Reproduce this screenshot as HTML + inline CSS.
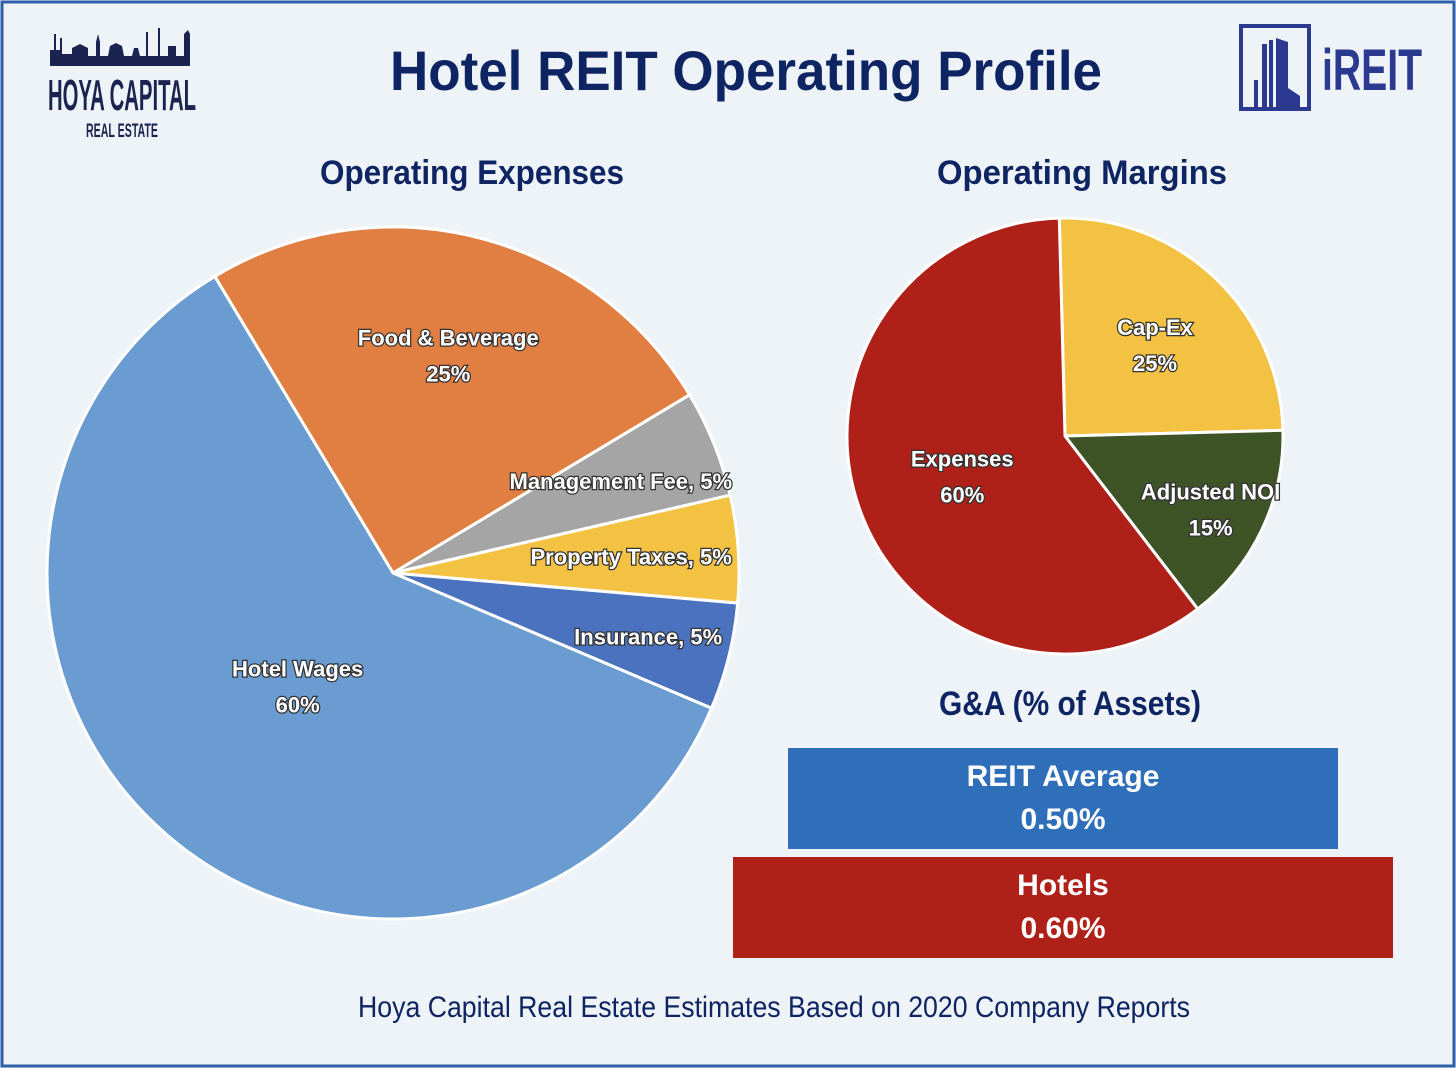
<!DOCTYPE html>
<html><head><meta charset="utf-8">
<style>
html,body{margin:0;padding:0;background:#eef3f7;}
svg{display:block;}
text{font-family:"Liberation Sans Narrow","Liberation Sans",sans-serif;font-weight:bold;}
.lbl{fill:#fff;font-size:22px;text-anchor:middle;paint-order:stroke;stroke:#333;stroke-width:2.5px;}
</style></head>
<body>
<svg id="chart" width="1456" height="1068" viewBox="0 0 1456 1068">
<rect x="2" y="2" width="1452" height="1064" fill="#eef3f7" stroke="#2f5fa8" stroke-width="3"/>
<text x="746" y="90" font-size="56" fill="#0e2463" text-anchor="middle" textLength="712" lengthAdjust="spacingAndGlyphs">Hotel REIT Operating Profile</text>
<g>
<path d="M50 66 L50 50 L54 50 L54 34 L56 34 L56 50 L60 50 L60 38 L62 38 L62 54 L72 54 L72 48 L80 44 L88 48 L88 56 L96 56 L96 42 L98 34 L100 42 L100 56 L108 56 L110 46 L116 43 L122 46 L124 56 L132 56 L134 48 L138 48 L140 56 L146 56 L146 32 L148 32 L148 56 L158 56 L158 28 L160 28 L160 56 L168 56 L168 46 L176 46 L176 56 L184 56 L184 34 L188 30 L190 34 L190 66 Z" fill="#1b2350"/>
<text x="122" y="110" font-size="44" fill="#1b2350" text-anchor="middle" textLength="148" lengthAdjust="spacingAndGlyphs">HOYA CAPITAL</text>
<text x="122" y="137" font-size="19" fill="#1b2350" text-anchor="middle" textLength="72" lengthAdjust="spacingAndGlyphs">REAL ESTATE</text>
</g>
<g>
<rect x="1241" y="26" width="68" height="83" fill="none" stroke="#2b3990" stroke-width="4"/>
<path d="M1276 38 L1288 42 L1288 88 L1300 96 L1300 108 L1276 108 Z" fill="#2b3990"/>
<rect x="1262" y="44" width="5" height="64" fill="#2b3990"/>
<rect x="1269" y="40" width="4" height="68" fill="#2b3990"/>
<rect x="1254" y="80" width="4" height="28" fill="#2b3990"/>
<text x="1322" y="90" font-size="58" fill="#2b3990" textLength="100" lengthAdjust="spacingAndGlyphs">iREIT</text>
</g>
<text x="472" y="184" font-size="34" fill="#0e2463" text-anchor="middle" textLength="304" lengthAdjust="spacingAndGlyphs">Operating Expenses</text>
<text x="1082" y="184" font-size="34" fill="#0e2463" text-anchor="middle" textLength="290" lengthAdjust="spacingAndGlyphs">Operating Margins</text>
<text x="1070" y="715" font-size="34" fill="#0e2463" text-anchor="middle" textLength="262" lengthAdjust="spacingAndGlyphs">G&amp;A (% of Assets)</text>
<g id="pie1"></g>
<g id="pie2"></g>
<g id="bars"></g>
<text x="774" y="1017" font-size="30" fill="#0e2463" style="font-weight:normal" text-anchor="middle" textLength="832" lengthAdjust="spacingAndGlyphs">Hoya Capital Real Estate Estimates Based on 2020 Company Reports</text>
</svg>
<script>
const expCategories=["Food & Beverage","Management Fee","Property Taxes","Insurance","Hotel Wages"];
const expValues=[25,5,5,5,60];
const expColors=["#e07f41","#a5a5a5","#f4c242","#4a72be","#6a9bd1"];
const expInline=[false,true,true,true,false];
const marCategories=["Cap-Ex","Adjusted NOI","Expenses"];
const marValues=[25,15,60];
const marColors=["#f4c242","#3e5326","#af2018"];
const gaCategories=["REIT Average","Hotels"];
const gaValues=[0.50,0.60];
const gaColors=["#2f6fba","#af2018"];
const NS="http://www.w3.org/2000/svg";
function mk(t,a,p){const e=document.createElementNS(NS,t);for(const k in a)e.setAttribute(k,a[k]);p.appendChild(e);return e;}
function pt(cx,cy,r,deg){const a=deg*Math.PI/180;return [cx+r*Math.sin(a),cy-r*Math.cos(a)];}
function pie(g,cats,vals,cols,cx,cy,r,start,labR,inline,name){
  const tot=vals.reduce((a,b)=>a+b,0);let a=start;
  vals.forEach((v,i)=>{
    const sw=v/tot*360,a2=a+sw;
    const p1=pt(cx,cy,r,a),p2=pt(cx,cy,r,a2);
    const p=mk("path",{d:`M${cx} ${cy} L${p1[0]} ${p1[1]} A${r} ${r} 0 ${sw>180?1:0} 1 ${p2[0]} ${p2[1]} Z`,fill:cols[i],stroke:"#fff","stroke-width":3},g);
    
    
    const m=pt(cx,cy,r*labR[i],a+sw/2);
    const t=mk("text",{x:m[0],y:m[1],class:"lbl"},g);
    
    
    if(inline&&inline[i]){t.setAttribute("y",m[1]+8);t.textContent=cats[i]+", "+v+"%";}
    else{const s1=mk("tspan",{x:m[0],dy:"-6"},t);s1.textContent=cats[i];const s2=mk("tspan",{x:m[0],dy:"36"},t);s2.textContent=v+"%";}
    a=a2;
  });
}
pie(document.getElementById("pie1"),expCategories,expValues,expColors,393,573,346,-31,[0.66,0.71,0.69,0.76,0.42],expInline,"expenses");
pie(document.getElementById("pie2"),marCategories,marValues,marColors,1065,436,218,-1.5,[0.6,0.74,0.5],null,"margins");
const bg=document.getElementById("bars");
gaValues.forEach((v,i)=>{
  const w=v*1100,y=748+i*109;
  const r=mk("rect",{x:1063-w/2,y:y,width:w,height:101,fill:gaColors[i]},bg);
  
  
  const t=mk("text",{x:1063,y:y+38,fill:"#fff","font-size":30,"text-anchor":"middle"},bg);
  
  
  const s1=mk("tspan",{x:1063},t);s1.textContent=gaCategories[i];
  const s2=mk("tspan",{x:1063,dy:"43"},t);s2.textContent=v.toFixed(2)+"%";
});
</script>
</body></html>
